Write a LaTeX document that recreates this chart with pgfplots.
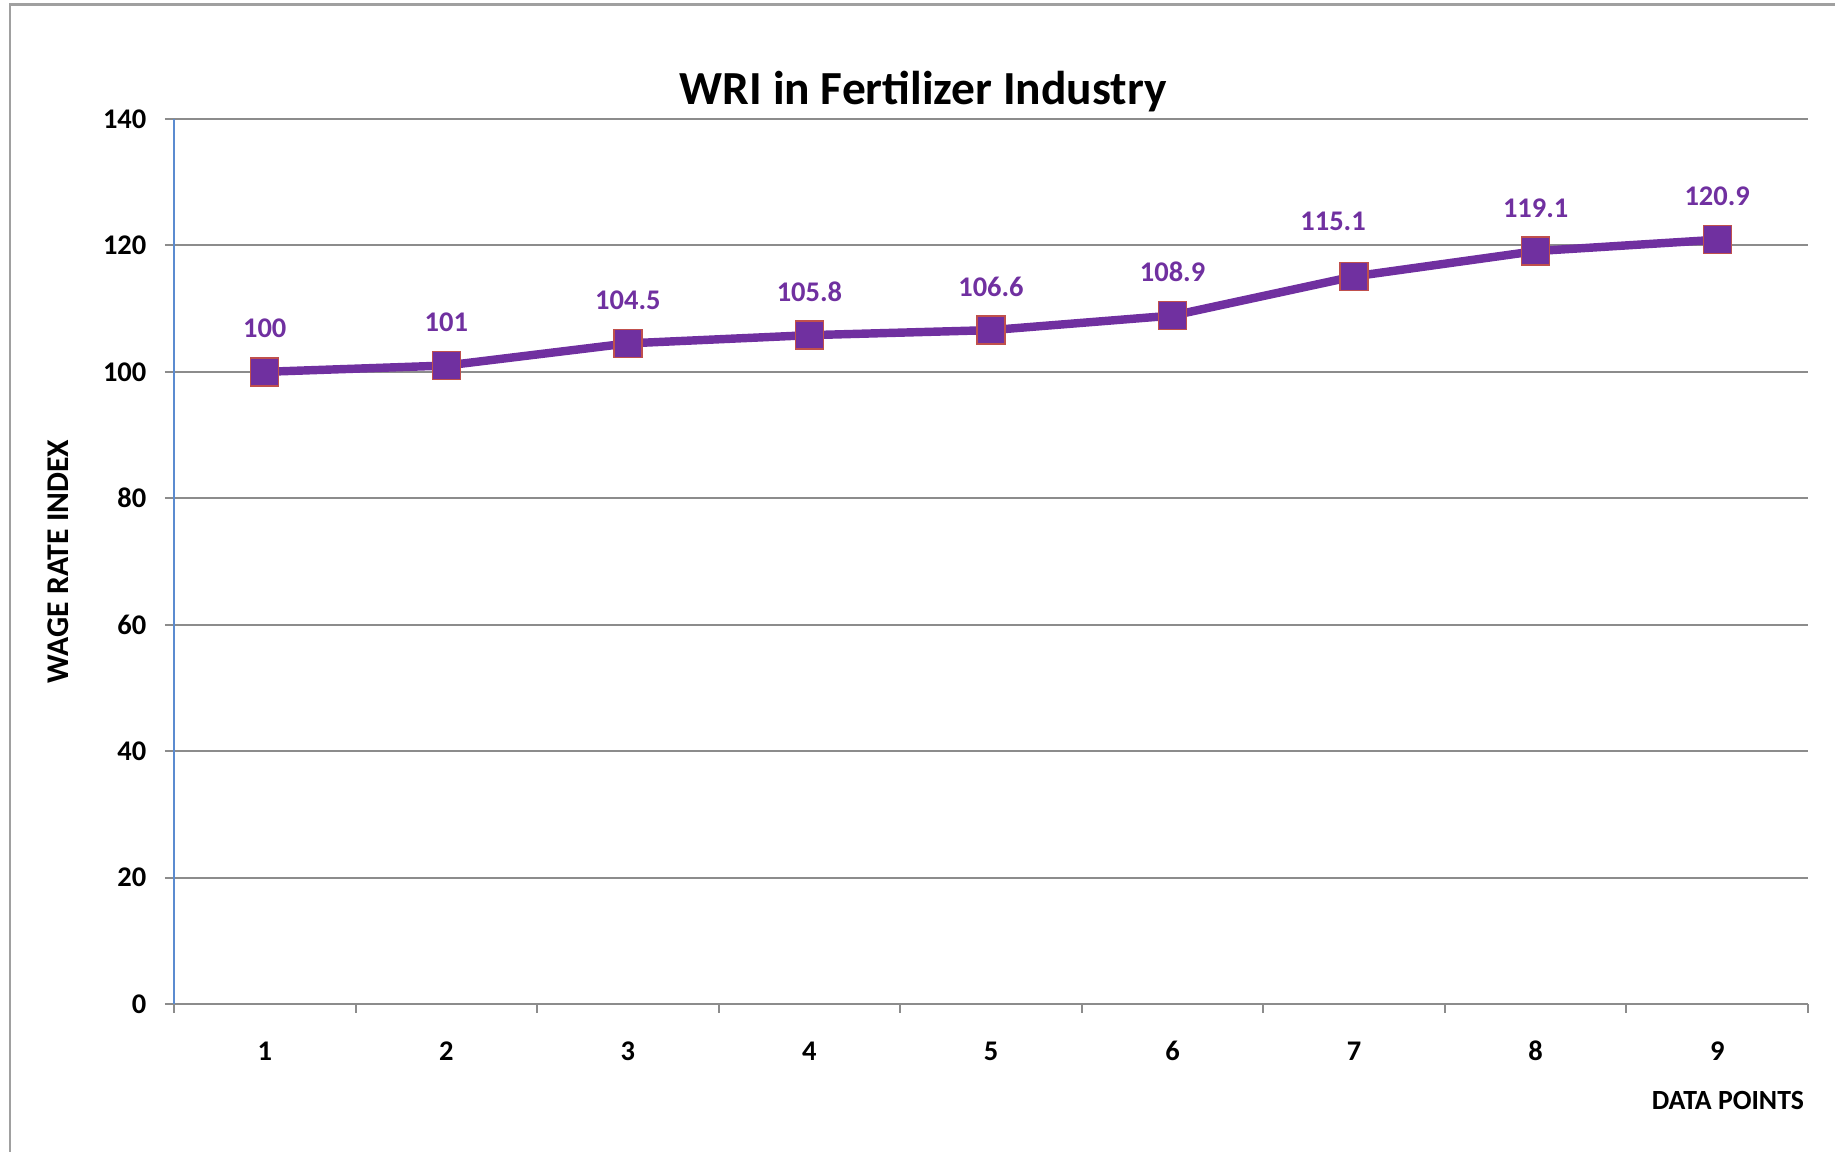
\documentclass[border=0pt]{standalone}
\usepackage{fontspec}
\setmainfont{Carlito}
\usepackage{pgfplots}
\pgfplotsset{compat=1.18}

\definecolor{wripurple}{HTML}{7030A0}
\definecolor{wrired}{HTML}{C0504D}
\definecolor{gridgray}{HTML}{8C8C8C}
\definecolor{yblue}{HTML}{5B8BD0}
\definecolor{framegray}{HTML}{A0A0A0}

\pgfplotstableread{
x y dx dy
1 100   0    0
2 101   0    0
3 104.5 0    0
4 105.8 0    0
5 106.6 0    0
6 108.9 0    0
7 115.1 -2.1 1.2
8 119.1 0    0
9 120.9 0    0
}\wridata

\begin{document}
\begin{tikzpicture}
  \useasboundingbox (0,0) rectangle (183.5mm,115.2mm);
  \draw[framegray, line width=0.3mm] (1mm,0) -- (1mm,114.7mm) -- (183.5mm,114.7mm);
  \begin{axis}[
      at={(17.4mm,14.8mm)}, anchor=south west,
      scale only axis, width=163.4mm, height=88.5mm,
      xmin=0.5, xmax=9.5, ymin=0, ymax=140,
      axis lines=left,
      x axis line style={-, draw=gridgray, line width=0.6pt},
      y axis line style={-, draw=yblue, line width=0.6pt},
      tick align=outside,
      major tick length=0.9mm,
      xtick={0.5,1.5,...,9.5}, xticklabels={},
      extra x ticks={1,2,3,4,5,6,7,8,9},
      extra x tick style={major tick length=0pt,
        xticklabel style={anchor=center, yshift=-4.7mm}},
      extra x tick labels={1,2,3,4,5,6,7,8,9},
      xtick style={draw=gridgray, line width=0.6pt},
      ytick={0,20,...,140},
      ytick style={draw=gridgray, line width=0.6pt},
      ymajorgrids, grid style={gridgray, line width=0.6pt},
      /pgf/number format/assume math mode=true,
      tick label style={font=\fontsize{8.1}{9}\selectfont\bfseries},
      yticklabel style={anchor=east, inner sep=0pt, xshift=-1.8mm},
      title={WRI in Fertilizer Industry},
      title style={font=\fontsize{13.5}{15}\selectfont\bfseries,
        at={(axis description cs:0.4586,1)}, anchor=center, yshift=0.6mm},
      ylabel={WAGE RATE INDEX},
      ylabel style={font=\fontsize{9}{10}\selectfont\bfseries,
        at={(axis description cs:-0.0707,0.5)}, anchor=center},
      xlabel={DATA POINTS},
      xlabel style={font=\fontsize{7.9}{9}\selectfont\bfseries, inner sep=0pt,
        at={(axis description cs:0.998,-0.1085)}, anchor=east},
      clip=false,
    ]
    \addplot[wripurple, line width=2.4pt,
      mark=square*, mark size=1.4mm,
      mark options={fill=wripurple, draw=wrired, line width=0.4pt},
      visualization depends on={\thisrow{dx} \as \dx},
      visualization depends on={\thisrow{dy} \as \dy},
      nodes near coords,
      point meta=explicit symbolic,
      nodes near coords style={font=\fontsize{8.1}{9}\selectfont\bfseries,
        text=wripurple, anchor=base, yshift=3.4mm+\dy mm, xshift=\dx mm},
    ] table[x=x, y=y, meta=y] {\wridata};
  \end{axis}
\end{tikzpicture}
\end{document}
